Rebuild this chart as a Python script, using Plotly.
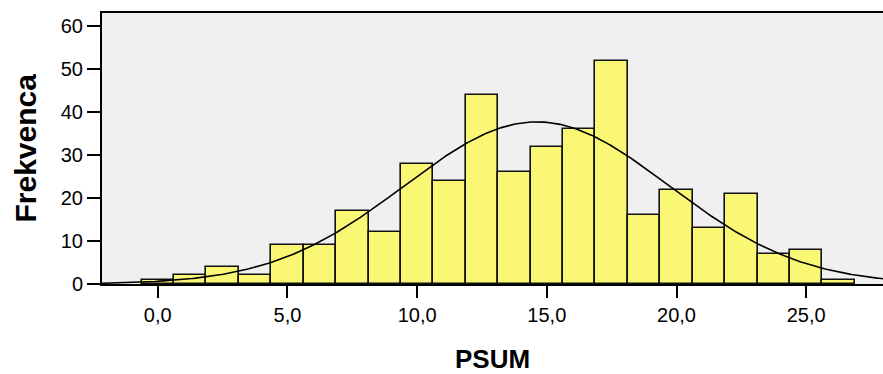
import numpy as np
import plotly.graph_objects as go

# Histogram data (PSUM), bin width 1.25 centred on multiples of 1.25
bin_centers = [0.0, 1.25, 2.5, 3.75, 5.0, 6.25, 7.5, 8.75, 10.0, 11.25, 12.5,
               13.75, 15.0, 16.25, 17.5, 18.75, 20.0, 21.25, 22.5, 23.75, 25.0, 26.25]
counts = [1, 2, 4, 2, 9, 9, 17, 12, 28, 24, 44, 26, 32, 36, 52, 16, 22, 13, 21, 7, 8, 1]
bin_width = 1.25

# Normal curve parameters (fitted)
MEAN = 14.61
SD = 5.10
N = sum(counts)

x_tickvals = [0, 5, 10, 15, 20, 25]
x_ticktext = ["0,0", "5,0", "10,0", "15,0", "20,0", "25,0"]
y_tickvals = [0, 10, 20, 30, 40, 50, 60]

x_range = [-2.15, 27.96]
y_range = [0, 63.1]

xc = np.linspace(x_range[0], x_range[1], 400)
yc = N * bin_width / (SD * np.sqrt(2 * np.pi)) * np.exp(-0.5 * ((xc - MEAN) / SD) ** 2)

fig = go.Figure()
fig.add_trace(go.Bar(
    x=bin_centers, y=counts, width=bin_width,
    marker=dict(color="#FAF774", line=dict(color="#111111", width=1.6)),
    hoverinfo="x+y",
))
fig.add_trace(go.Scatter(x=xc, y=yc, mode="lines",
                         line=dict(color="#000000", width=1.6), hoverinfo="skip"))

font_family = "Liberation Sans, Arial, sans-serif"
fig.update_layout(
    width=883, height=374,
    margin=dict(l=102, r=0, t=13, b=90),
    paper_bgcolor="white", plot_bgcolor="#F0F0F0",
    showlegend=False, bargap=0,
    font=dict(family=font_family, size=20, color="#000000"),
)
fig.update_xaxes(
    range=x_range, tickvals=x_tickvals, ticktext=x_ticktext,
    showgrid=False, zeroline=False,
    showline=True, linecolor="#000000", linewidth=2, mirror=True,
    ticks="outside", ticklen=12, tickwidth=2, tickcolor="#000000",
    tickfont=dict(size=20),
)
fig.update_yaxes(
    range=y_range, tickvals=y_tickvals,
    showgrid=False, zeroline=False,
    showline=True, linecolor="#000000", linewidth=2,
    ticks="outside", ticklen=13, tickwidth=2, tickcolor="#000000",
    tickfont=dict(size=20),
)
fig.add_annotation(text="<b>Frekvenca</b>", xref="paper", yref="paper",
                   x=0, y=0.5, xanchor="center", yanchor="middle",
                   xshift=-77, textangle=-90, showarrow=False,
                   font=dict(size=30, family=font_family))
fig.add_annotation(text="<b>PSUM</b>", xref="paper", yref="paper",
                   x=0.5, y=0, xanchor="center", yanchor="middle",
                   yshift=-75, showarrow=False,
                   font=dict(size=26, family=font_family))

fig.write_html("out.html", config={"displayModeBar": False},
               post_script="document.body.style.margin='0';")
